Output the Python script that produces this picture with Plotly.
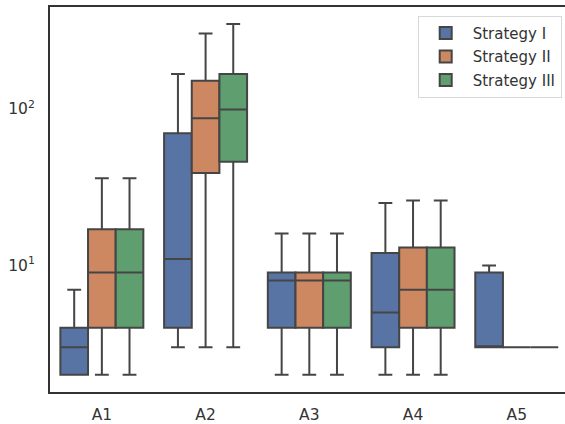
import plotly.graph_objects as go

categories = ["A1", "A2", "A3", "A4", "A5"]
series_names = ["Strategy I", "Strategy II", "Strategy III"]

# box statistics per series (one value per category)
s1_low = [2, 3, 2, 2, 3]
s1_q1 = [2, 4, 4, 3, 3]
s1_med = [3, 11, 8, 5, 3]
s1_q3 = [4, 70, 9, 12, 9]
s1_high = [7, 167, 16, 25, 10]

s2_low = [2, 3, 2, 2, 3]
s2_q1 = [4, 39, 4, 4, 3]
s2_med = [9, 87, 8, 7, 3]
s2_q3 = [17, 151, 9, 13, 3]
s2_high = [36, 303, 16, 26, 3]

s3_low = [2, 3, 2, 2, 3]
s3_q1 = [4, 46, 4, 4, 3]
s3_med = [9, 99, 8, 7, 3]
s3_q3 = [17, 167, 9, 13, 3]
s3_high = [36, 348, 16, 26, 3]

colors = ["#5874a4", "#cd8862", "#5f9e6e"]
line_color = "#454545"

stats = [
    (s1_low, s1_q1, s1_med, s1_q3, s1_high),
    (s2_low, s2_q1, s2_med, s2_q3, s2_high),
    (s3_low, s3_q1, s3_med, s3_q3, s3_high),
]

fig = go.Figure()
for name, col, (lo, q1, med, q3, hi) in zip(series_names, colors, stats):
    fig.add_trace(go.Box(
        name=name,
        legendgroup=name,
        x=categories,
        lowerfence=lo, q1=q1, median=med, q3=q3, upperfence=hi,
        fillcolor=col,
        line=dict(color=line_color, width=2),
        whiskerwidth=0.5,
        boxpoints=False,
        hoverinfo="skip",
    ))

fig.update_layout(
    width=565, height=424,
    margin=dict(l=50, r=0, t=7, b=30),
    paper_bgcolor="white", plot_bgcolor="white",
    boxmode="group", boxgap=0.2, boxgroupgap=0,
    font=dict(family="DejaVu Sans", size=15, color="#333333"),
    showlegend=True,
    legend=dict(
        x=0.9936, y=0.9775, xanchor="right", yanchor="top",
        bgcolor="white", bordercolor="#d8d8d8", borderwidth=1,
        font=dict(family="DejaVu Sans", size=15, color="#333333"),
        tracegroupgap=1,
        itemwidth=44,
    ),
    xaxis=dict(
        type="category",
        range=[-0.5, 4.465],
        showline=True, linecolor="#333333", linewidth=2,
        mirror=True,
        showgrid=False, zeroline=False,
        ticks="outside", ticklen=7, tickcolor="rgba(0,0,0,0)",
        tickfont=dict(size=15.5),
    ),
    yaxis=dict(
        type="log",
        range=[0.191, 2.651],
        showline=True, linecolor="#333333", linewidth=2,
        showgrid=False, zeroline=False,
        tickvals=[10, 100],
        ticktext=["10<sup>1</sup>", "10<sup>2</sup>"],
        ticks="outside", ticklen=10, tickcolor="rgba(0,0,0,0)",
        tickfont=dict(size=15.5),
    ),
)

fig.write_html("out.html", config={"displayModeBar": False},
               post_script="document.body.style.margin='0px';")
